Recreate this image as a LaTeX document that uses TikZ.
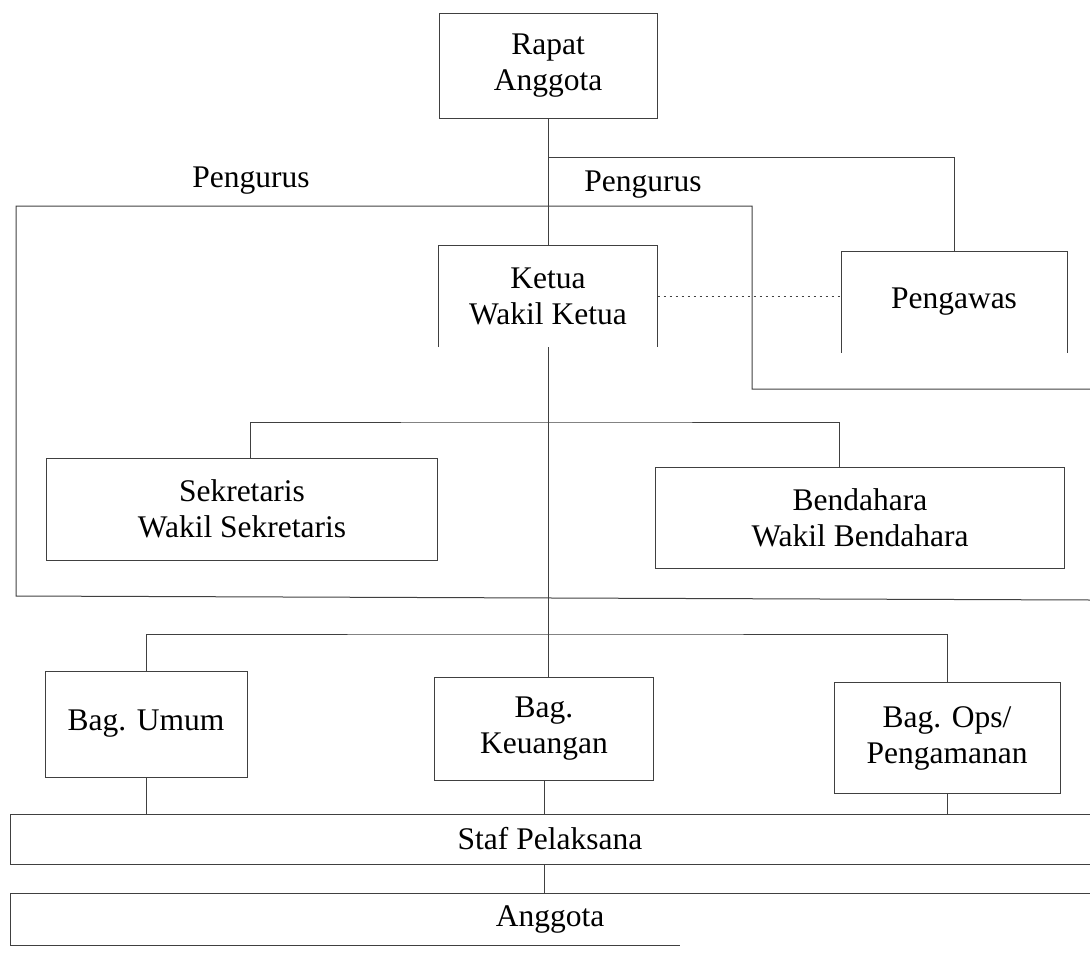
\documentclass[tikz,border=0pt]{standalone}
\usepackage{fontspec}
\setmainfont{Liberation Serif}
\usetikzlibrary{calc}

\begin{document}
\begin{tikzpicture}[x=1pt,y=-1pt,inner sep=0pt,outer sep=0pt,
	font=\fontsize{31.5}{36}\selectfont,
	box/.style={draw=black!75,line width=1pt,align=center},
	obox/.style={align=center}]
	\useasboundingbox (0,0) rectangle (1090,961);
	\node[box,minimum width=218,minimum height=105] (rapat) at (548,66) {Rapat\\Anggota};
	\node[obox,minimum width=219,minimum height=102] (ketua) at (548,296) {Ketua\\Wakil Ketua};
	\node[obox,minimum width=226,minimum height=101] (pengawas) at (954,302) {Pengawas};
	\node[box,minimum width=391,minimum height=102] (sekretaris) at (242,509) {Sekretaris\\Wakil Sekretaris};
	\node[box,minimum width=409,minimum height=101] (bendahara) at (860,518) {Bendahara\\Wakil Bendahara};
	\node[box,minimum width=202,minimum height=106] (umum) at (146,724) {Bag. Umum};
	\node[box,minimum width=219,minimum height=103] (keuangan) at (544,729) {Bag.\\Keuangan};
	\node[box,minimum width=226,minimum height=111] (ops) at (947,738) {Bag. Ops/\\Pengamanan};
	\node[minimum width=1080,minimum height=50] (staf) at (550,839) {Staf Pelaksana};
	\node[minimum width=1080,minimum height=52] (anggota) at (550,919) {Anggota};
	\node (pengurusA) at (251,181) {Pengurus};
	\node (pengurusB) at (643,185) {Pengurus};
	\coordinate (forkA) at (548,157);
	\coordinate (forkB) at (548,422);
	\coordinate (forkC) at (544,634);
	\begin{scope}[black!75,line width=1pt]
	\draw (ketua.south west) -- (ketua.north west) -- (ketua.north east) -- (ketua.south east);
	\draw (pengawas.south west) -- (pengawas.north west) -- (pengawas.north east) -- (pengawas.south east);
	\draw (staf.north east) -- (staf.north west) -- (staf.south west) -- (staf.south east);
	\draw (anggota.north east) -- (anggota.north west) -- (anggota.south west) -- +(670,0);
	\draw (1090,389) -- (752,389) -- (752,206) -- (16,206) -- (16,596) -- (1090,600);
	\draw (rapat.south) -- (ketua.north);
	\draw (forkA) -| (pengawas.north);
	\draw[dash pattern=on 2pt off 4pt] (ketua.east) -- (ketua.east -| pengawas.west);
	\draw (ketua.south) -- (ketua.south |- keuangan.north);
	\draw ([xshift=8pt]sekretaris.north) |- (forkB) -| ([xshift=-21pt]bendahara.north);
	\draw (umum.north) |- (forkC) -| (ops.north);
	\draw (umum.south) -- (umum.south |- staf.north);
	\draw (keuangan.south) -- (keuangan.south |- staf.north);
	\draw (ops.south) -- (ops.south |- staf.north);
	\draw (keuangan.south |- staf.south) -- (keuangan.south |- anggota.north);
	\end{scope}
\end{tikzpicture}
\end{document}
